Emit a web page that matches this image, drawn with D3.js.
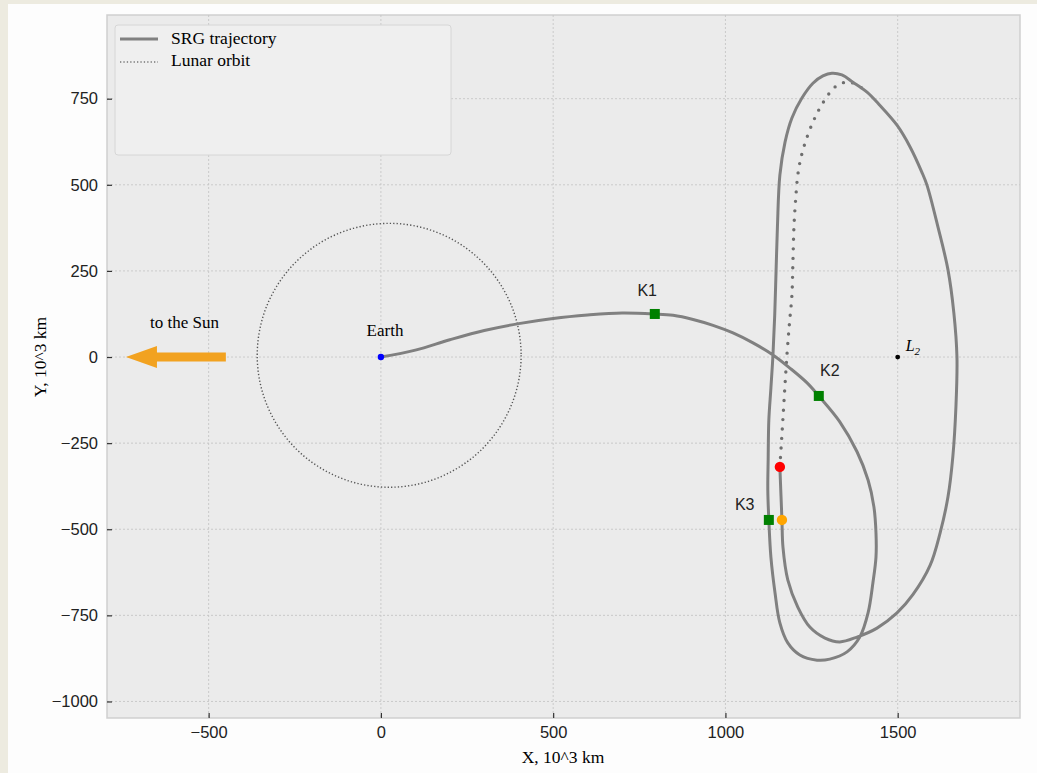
<!DOCTYPE html>
<html>
<head>
<meta charset="utf-8">
<script src="https://cdn.jsdelivr.net/npm/d3@7"></script>
<style>
  body { margin: 0; background: #edebe0; }
  svg { display: block; }
</style>
</head>
<body>
<div id="chart"></div>
<script>
// axis ticks, 10^3 km
const xTicks = [-500, 0, 500, 1000, 1500];
const yTicks = [-1000, -750, -500, -250, 0, 250, 500, 750];

// SRG trajectory (x, y in 10^3 km)
const trajX = [0, 100, 200, 300, 400, 500, 600, 700, 795, 848, 906, 964, 1022, 1080, 1138,
  1187, 1237, 1271, 1332, 1382, 1414, 1431, 1437, 1437, 1428, 1414, 1390, 1353, 1303, 1266,
  1216, 1181, 1158, 1144, 1132, 1126, 1123, 1124, 1126, 1132, 1138, 1143, 1147, 1151, 1158,
  1173, 1193, 1222, 1254, 1283, 1309, 1338, 1370, 1411, 1448, 1498, 1536, 1570, 1585, 1617,
  1646, 1663, 1672, 1669, 1660, 1646, 1623, 1594, 1544, 1498, 1440, 1382, 1332, 1289, 1245,
  1210, 1181, 1167, 1164, 1158];
const trajY = [0, 20, 50, 77, 97, 112, 122, 128, 125, 121, 109, 92, 70, 41, 6,
  -32, -75, -113, -188, -275, -357, -435, -511, -581, -656, -743, -813, -856, -877, -880,
  -865, -830, -772, -685, -581, -473, -386, -300, -183, -90, 6, 120, 250, 380, 528,
  624, 694, 752, 795, 816, 824, 819, 798, 769, 731, 673, 610, 537, 499, 377,
  253, 128, 0, -145, -290, -406, -511, -605, -690, -743, -787, -813, -827, -816, -784,
  -726, -647, -552, -473, -319];

// dotted continuation from the red point
const restX = [1158, 1163, 1167, 1173, 1179, 1186, 1193, 1196, 1199, 1204, 1210, 1219, 1234,
  1254, 1277, 1309, 1330, 1362, 1405];
const restY = [-319, -241, -177, -80, 12, 100, 180, 280, 380, 460, 528, 578, 630,
  682, 728, 775, 792, 798, 775];

// lunar orbit around the Earth
const moonCenter = [24, 5];
const moonRadius = 383;

// control points K1..K3
const kNames = ["K1", "K2", "K3"];
const kX = [795, 1271, 1126];
const kY = [125, -113, -473];

const L2 = [1500, 0];
const redPoint = [1158, -319];
const orangePoint = [1164, -473];
const sunArrow = { from: -450, to: -740 };

const W = 1037, H = 773;
const svg = d3.select("#chart").append("svg").attr("width", W).attr("height", H);

svg.append("rect").attr("width", W).attr("height", H).attr("fill", "#edebe0");
svg.append("rect").attr("x", 8).attr("y", 4).attr("width", W - 8).attr("height", H - 4).attr("fill", "#fdfdfd");

const pLeft = 107, pRight = 1020, pTop = 15, pBottom = 718;

const x = d3.scaleLinear().domain([-795, 1855]).range([pLeft, pRight]);
const y = d3.scaleLinear().domain([-1048, 993]).range([pBottom, pTop]);

svg.append("rect")
  .attr("x", pLeft).attr("y", pTop)
  .attr("width", pRight - pLeft).attr("height", pBottom - pTop)
  .attr("fill", "#ebebeb")
  .attr("stroke", "#cfcfcf").attr("stroke-width", 1.5);

// grid
svg.append("g").selectAll("line").data(xTicks).join("line")
  .attr("x1", d => x(d)).attr("x2", d => x(d))
  .attr("y1", pTop).attr("y2", pBottom)
  .attr("stroke", "#c6c6c6").attr("stroke-width", 0.9).attr("stroke-dasharray", "2,2");
svg.append("g").selectAll("line").data(yTicks).join("line")
  .attr("y1", d => y(d)).attr("y2", d => y(d))
  .attr("x1", pLeft).attr("x2", pRight)
  .attr("stroke", "#c6c6c6").attr("stroke-width", 0.9).attr("stroke-dasharray", "2,2");

const fmt = d => d < 0 ? "\u2212" + Math.abs(d) : String(d);

const xAxis = svg.append("g")
  .attr("transform", "translate(0," + pBottom + ")")
  .call(d3.axisBottom(x).tickValues(xTicks).tickFormat(fmt).tickSize(-5).tickPadding(8));
const yAxis = svg.append("g")
  .attr("transform", "translate(" + pLeft + ",0)")
  .call(d3.axisLeft(y).tickValues(yTicks).tickFormat(fmt).tickSize(-5).tickPadding(9));

[xAxis, yAxis].forEach(g => {
  g.select(".domain").remove();
  g.selectAll(".tick line").attr("stroke", "#333").attr("stroke-width", 1.2);
  g.selectAll(".tick text")
    .attr("fill", "#222")
    .style("font-family", "'Liberation Sans', Arial, sans-serif")
    .style("font-size", "16.5px");
});

const serif = "'Liberation Serif', 'Times New Roman', serif";

// axis titles
svg.append("text")
  .attr("x", 563).attr("y", 763)
  .attr("text-anchor", "middle")
  .style("font-family", serif)
  .style("font-size", "17.5px")
  .text("X, 10^3 km");
svg.append("text")
  .attr("transform", "translate(46," + y(0) + ") rotate(-90)")
  .attr("text-anchor", "middle")
  .style("font-family", serif)
  .style("font-size", "17.5px")
  .text("Y, 10^3 km");

const plot = svg.append("g");

// lunar orbit
plot.append("circle")
  .attr("cx", x(moonCenter[0])).attr("cy", y(moonCenter[1]))
  .attr("r", x(moonRadius) - x(0))
  .attr("fill", "none")
  .attr("stroke", "#555").attr("stroke-width", 1.4)
  .attr("stroke-dasharray", "1.3,2.1");

const line = d3.line()
  .x(d => x(d[0])).y(d => y(d[1]))
  .curve(d3.curveCatmullRom.alpha(0.5));

// dotted continuation
plot.append("path")
  .attr("d", line(restX.map((v, i) => [v, restY[i]])))
  .attr("fill", "none")
  .attr("stroke", "#6e6e6e").attr("stroke-width", 3.4)
  .attr("stroke-linecap", "round")
  .attr("stroke-dasharray", "0,9.5");

// trajectory
plot.append("path")
  .attr("d", line(trajX.map((v, i) => [v, trajY[i]])))
  .attr("fill", "none")
  .attr("stroke", "#808080").attr("stroke-width", 3)
  .attr("stroke-linejoin", "round");

// arrow to the Sun
const headLen = 90, headHalf = 32, shaftHalf = 13;
const arrowPts = [
  [sunArrow.from, shaftHalf], [sunArrow.to + headLen, shaftHalf], [sunArrow.to + headLen, headHalf],
  [sunArrow.to, 0],
  [sunArrow.to + headLen, -headHalf], [sunArrow.to + headLen, -shaftHalf], [sunArrow.from, -shaftHalf]
];
plot.append("polygon")
  .attr("points", arrowPts.map(p => x(p[0]) + "," + y(p[1])).join(" "))
  .attr("fill", "#f2a220");

plot.append("text")
  .attr("x", x(-570)).attr("y", y(85))
  .attr("text-anchor", "middle")
  .style("font-family", serif).style("font-size", "17px")
  .text("to the Sun");

// Earth
plot.append("circle").attr("cx", x(0)).attr("cy", y(0)).attr("r", 3.2).attr("fill", "#0000ff");
plot.append("text")
  .attr("x", x(12)).attr("y", y(60))
  .attr("text-anchor", "middle")
  .style("font-family", serif).style("font-size", "17px")
  .text("Earth");

// L2
plot.append("circle").attr("cx", x(L2[0])).attr("cy", y(L2[1])).attr("r", 2.4).attr("fill", "#000");
const l2 = plot.append("text")
  .attr("x", x(L2[0]) + 8).attr("y", y(L2[1]) - 6)
  .style("font-family", serif).style("font-size", "16px").style("font-style", "italic");
l2.append("tspan").text("L");
l2.append("tspan").attr("dy", 4).style("font-size", "11px").text("2");

// red / orange points
plot.append("circle").attr("cx", x(redPoint[0])).attr("cy", y(redPoint[1])).attr("r", 5.2).attr("fill", "#ff0000");
plot.append("circle").attr("cx", x(orangePoint[0])).attr("cy", y(orangePoint[1])).attr("r", 5.2).attr("fill", "#ffa500");

// K markers
const sq = 10;
plot.selectAll("rect.k").data(kNames).join("rect")
  .attr("class", "k")
  .attr("x", (d, i) => x(kX[i]) - sq / 2).attr("y", (d, i) => y(kY[i]) - sq / 2)
  .attr("width", sq).attr("height", sq)
  .attr("fill", "#008000");

const kLabelDx = [-22, 32, -70];
const kLabelDy = [65, 70, 40];
plot.selectAll("text.k").data(kNames).join("text")
  .attr("class", "k")
  .attr("x", (d, i) => x(kX[i] + kLabelDx[i]))
  .attr("y", (d, i) => y(kY[i] + kLabelDy[i]))
  .attr("text-anchor", "middle")
  .attr("dominant-baseline", "middle")
  .attr("fill", "#222")
  .style("font-family", "'Liberation Sans', Arial, sans-serif")
  .style("font-size", "16px")
  .text(d => d);

// legend
const lg = svg.append("g");
lg.append("rect")
  .attr("x", 115).attr("y", 25).attr("width", 336).attr("height", 130)
  .attr("rx", 3)
  .attr("fill", "#efefef").attr("stroke", "#d6d6d6").attr("stroke-width", 1);
lg.append("line").attr("x1", 120).attr("x2", 158).attr("y1", 39).attr("y2", 39)
  .attr("stroke", "#808080").attr("stroke-width", 3);
lg.append("line").attr("x1", 120).attr("x2", 158).attr("y1", 62).attr("y2", 62)
  .attr("stroke", "#777").attr("stroke-width", 1.3).attr("stroke-dasharray", "1.3,2.1");
lg.append("text").attr("x", 171).attr("y", 40).attr("dominant-baseline", "middle")
  .style("font-family", serif).style("font-size", "17.5px").text("SRG trajectory");
lg.append("text").attr("x", 171).attr("y", 62).attr("dominant-baseline", "middle")
  .style("font-family", serif).style("font-size", "17.5px").text("Lunar orbit");
</script>
</body>
</html>
